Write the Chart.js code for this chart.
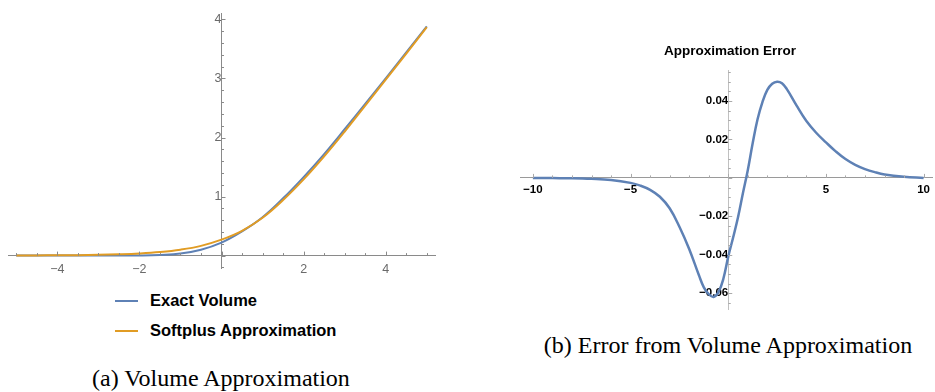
<!DOCTYPE html>
<html>
<head>
<meta charset="utf-8">
<script src="https://cdn.jsdelivr.net/npm/chart.js@4.4.1/dist/chart.umd.min.js"></script>
<style>
  body { margin: 0; background: #fff; width: 935px; height: 392px; position: relative; overflow: hidden; }
  canvas { position: absolute; }
  #volChart { left: 0; top: 0; }
  #errChart { left: 500px; top: 55px; }
  .txt { position: absolute; white-space: nowrap; color: #000; }
  .cap { font-family: "Liberation Serif", "Times New Roman", serif; font-size: 24px; transform: translate(-50%, -50%); }
  .leg { font-family: "Liberation Sans", Arial, sans-serif; font-weight: bold; font-size: 16.5px; transform: translateY(-50%); }
  .swatch { position: absolute; height: 2px; width: 23px; }
  #errTitle { font-family: "Liberation Sans", Arial, sans-serif; font-weight: bold; font-size: 13.5px; transform: translate(-50%, -50%); }
</style>
</head>
<body>
<canvas id="volChart" width="445" height="285"></canvas>
<canvas id="errChart" width="435" height="270"></canvas>

<div class="swatch" style="left:115px; top:300px; background:#5e81b5;"></div>
<div class="txt leg" style="left:150px; top:300px;">Exact Volume</div>
<div class="swatch" style="left:115px; top:330px; background:#e19c24;"></div>
<div class="txt leg" style="left:150px; top:330px;">Softplus Approximation</div>
<div class="txt cap" style="left:221px; top:378px;">(a) Volume Approximation</div>

<div class="txt" id="errTitle" style="left:730px; top:50px;">Approximation Error</div>
<div class="txt cap" style="left:728px; top:345px;">(b) Error from Volume Approximation</div>

<script>
// (a) volume vs softplus
const volX = [-5, -4.5, -4, -3.5, -3, -2.5, -2, -1.5, -1, -0.5, 0, 0.5, 1, 1.5, 2, 2.5, 3, 3.5, 4, 4.5, 5];
const exactVol = [0, 0, 0, 0, 0, 0.001, 0.003, 0.012, 0.035, 0.1, 0.22, 0.41, 0.65, 0.97, 1.33, 1.72, 2.14, 2.57, 3.0, 3.44, 3.88];
const softVol = [0.002, 0.003, 0.005, 0.008, 0.013, 0.022, 0.036, 0.06, 0.1, 0.165, 0.27, 0.42, 0.64, 0.94, 1.29, 1.68, 2.1, 2.54, 2.98, 3.42, 3.87];
const volXTicks = [-4, -2, 2, 4];
const volYTicks = [1, 2, 3, 4];

// (b) error
const errX = [-10, -9, -8, -7, -6, -5, -4.5, -4, -3.5, -3, -2.5, -2, -1.5, -1.25, -1, -0.75, -0.5, -0.25, 0, 0.25, 0.5, 0.75, 1, 1.25, 1.5, 1.75, 2, 2.25, 2.5, 2.75, 3, 3.5, 4, 4.5, 5, 5.5, 6, 6.5, 7, 7.5, 8, 9, 10];
const errVals = [0, -0.0001, -0.0002, -0.0005, -0.0011, -0.0026, -0.004, -0.0062, -0.0098, -0.0158, -0.0254, -0.037, -0.0507, -0.057, -0.0605, -0.062, -0.0595, -0.0525, -0.041, -0.031, -0.0205, -0.008, 0.004, 0.018, 0.0305, 0.0395, 0.0458, 0.049, 0.0501, 0.0493, 0.0462, 0.0376, 0.0296, 0.0235, 0.0185, 0.0138, 0.0098, 0.0068, 0.0046, 0.003, 0.0018, 0.0006, 0];
const errXTicks = [-10, -5, 5, 10];
const errYTicks = [-0.06, -0.04, -0.02, 0.02, 0.04];

function pts(xs, ys) {
  return xs.map((x, i) => ({ x: x, y: ys[i] }));
}

function range(a, b, step) {
  let out = [];
  for (let i = 0; a + i * step <= b + 1e-9; i++) out.push(+(a + i * step).toFixed(4));
  return out;
}

function minus(v, digits) {
  let s = digits ? Math.abs(v).toFixed(digits) : String(Math.abs(v));
  return (v < 0 ? '\u2212' : '') + s;
}

// mathematica style inward ticks along the axes
const axisTicks = {
  id: 'axisTicks',
  afterDraw(chart, args, o) {
    const ctx = chart.ctx;
    const xs = chart.scales.x, ys = chart.scales.y;
    const x0 = xs.getPixelForValue(0), y0 = ys.getPixelForValue(0);
    ctx.save();
    ctx.lineWidth = 1;
    ctx.strokeStyle = o.color;
    o.xMinor.forEach(v => {
      const px = Math.round(xs.getPixelForValue(v)) + 0.5;
      const len = o.xMajor.includes(v) ? o.major : o.minor;
      ctx.beginPath(); ctx.moveTo(px, y0); ctx.lineTo(px, y0 - len); ctx.stroke();
    });
    o.yMinor.forEach(v => {
      const py = Math.round(ys.getPixelForValue(v)) + 0.5;
      const len = o.yMajor.some(m => Math.abs(m - v) < 1e-6) ? o.major : o.minor;
      ctx.beginPath(); ctx.moveTo(x0, py); ctx.lineTo(x0 + len, py); ctx.stroke();
    });
    ctx.restore();
  }
};

new Chart(document.getElementById('volChart'), {
  type: 'line',
  data: {
    datasets: [
      { label: 'Softplus Approximation', data: pts(volX, softVol), borderColor: '#e19c24', borderWidth: 2, pointRadius: 0, tension: 0.4, order: 0 },
      { label: 'Exact Volume', data: pts(volX, exactVol), borderColor: '#5e81b5', borderWidth: 2, pointRadius: 0, tension: 0.4, order: 1 }
    ]
  },
  options: {
    responsive: false,
    animation: false,
    layout: { padding: { left: 8, right: 10, top: 6, bottom: 17 } },
    plugins: {
      legend: { display: false },
      tooltip: { enabled: false },
      axisTicks: { color: '#8a8a8a', major: 4, minor: 2.5, xMinor: range(-5, 5, 0.5), xMajor: [-4, -2, 0, 2, 4], yMinor: range(-0.2, 4, 0.2), yMajor: [0, 1, 2, 3, 4] }
    },
    scales: {
      x: {
        type: 'linear', min: -5.2, max: 5.2, position: { y: 0 },
        afterBuildTicks: a => { a.ticks = volXTicks.map(v => ({ value: v })); },
        grid: { display: false, drawTicks: false },
        border: { display: true, color: '#8a8a8a', width: 1 },
        ticks: { color: '#6a6a6a', padding: 6, maxRotation: 0, font: { family: 'Liberation Sans', size: 12.5 }, callback: v => minus(v) }
      },
      y: {
        type: 'linear', min: -0.21, max: 4.1, position: { x: 0 },
        afterBuildTicks: a => { a.ticks = volYTicks.map(v => ({ value: v })); },
        grid: { display: false, drawTicks: false },
        border: { display: true, color: '#8a8a8a', width: 1 },
        ticks: { color: '#6a6a6a', padding: 6, font: { family: 'Liberation Sans', size: 12.5 }, callback: v => minus(v) }
      }
    }
  },
  plugins: [axisTicks]
});

new Chart(document.getElementById('errChart'), {
  type: 'line',
  data: {
    datasets: [
      { label: 'Approximation Error', data: pts(errX, errVals), borderColor: '#5e81b5', borderWidth: 2.5, pointRadius: 0, tension: 0.4 }
    ]
  },
  options: {
    responsive: false,
    animation: false,
    layout: { padding: { left: 20, right: 0, top: 7, bottom: 10 } },
    plugins: {
      legend: { display: false },
      tooltip: { enabled: false },
      axisTicks: { color: '#aaaaaa', major: 4, minor: 2.5, xMinor: range(-10, 10, 1), xMajor: [-10, -5, 0, 5, 10], yMinor: range(-0.065, 0.055, 0.005), yMajor: [-0.06, -0.04, -0.02, 0, 0.02, 0.04] }
    },
    scales: {
      x: {
        type: 'linear', min: -10.66, max: 10.46, position: { y: 0 },
        afterBuildTicks: a => { a.ticks = errXTicks.map(v => ({ value: v })); },
        grid: { display: false, drawTicks: false },
        border: { display: true, color: '#9a9a9a', width: 1 },
        ticks: { color: '#000', padding: 5, maxRotation: 0, font: { family: 'Liberation Sans', size: 11.5, weight: 'bold' }, callback: v => minus(v) }
      },
      y: {
        type: 'linear', min: -0.0683, max: 0.0557, position: { x: 0 },
        afterBuildTicks: a => { a.ticks = errYTicks.map(v => ({ value: v })); },
        grid: { display: false, drawTicks: false },
        border: { display: true, color: '#c0c0c0', width: 1 },
        ticks: { color: '#000', padding: 9, font: { family: 'Liberation Sans', size: 11.5, weight: 'bold' }, callback: v => minus(v, 2) }
      }
    }
  },
  plugins: [axisTicks]
});
</script>
</body>
</html>
